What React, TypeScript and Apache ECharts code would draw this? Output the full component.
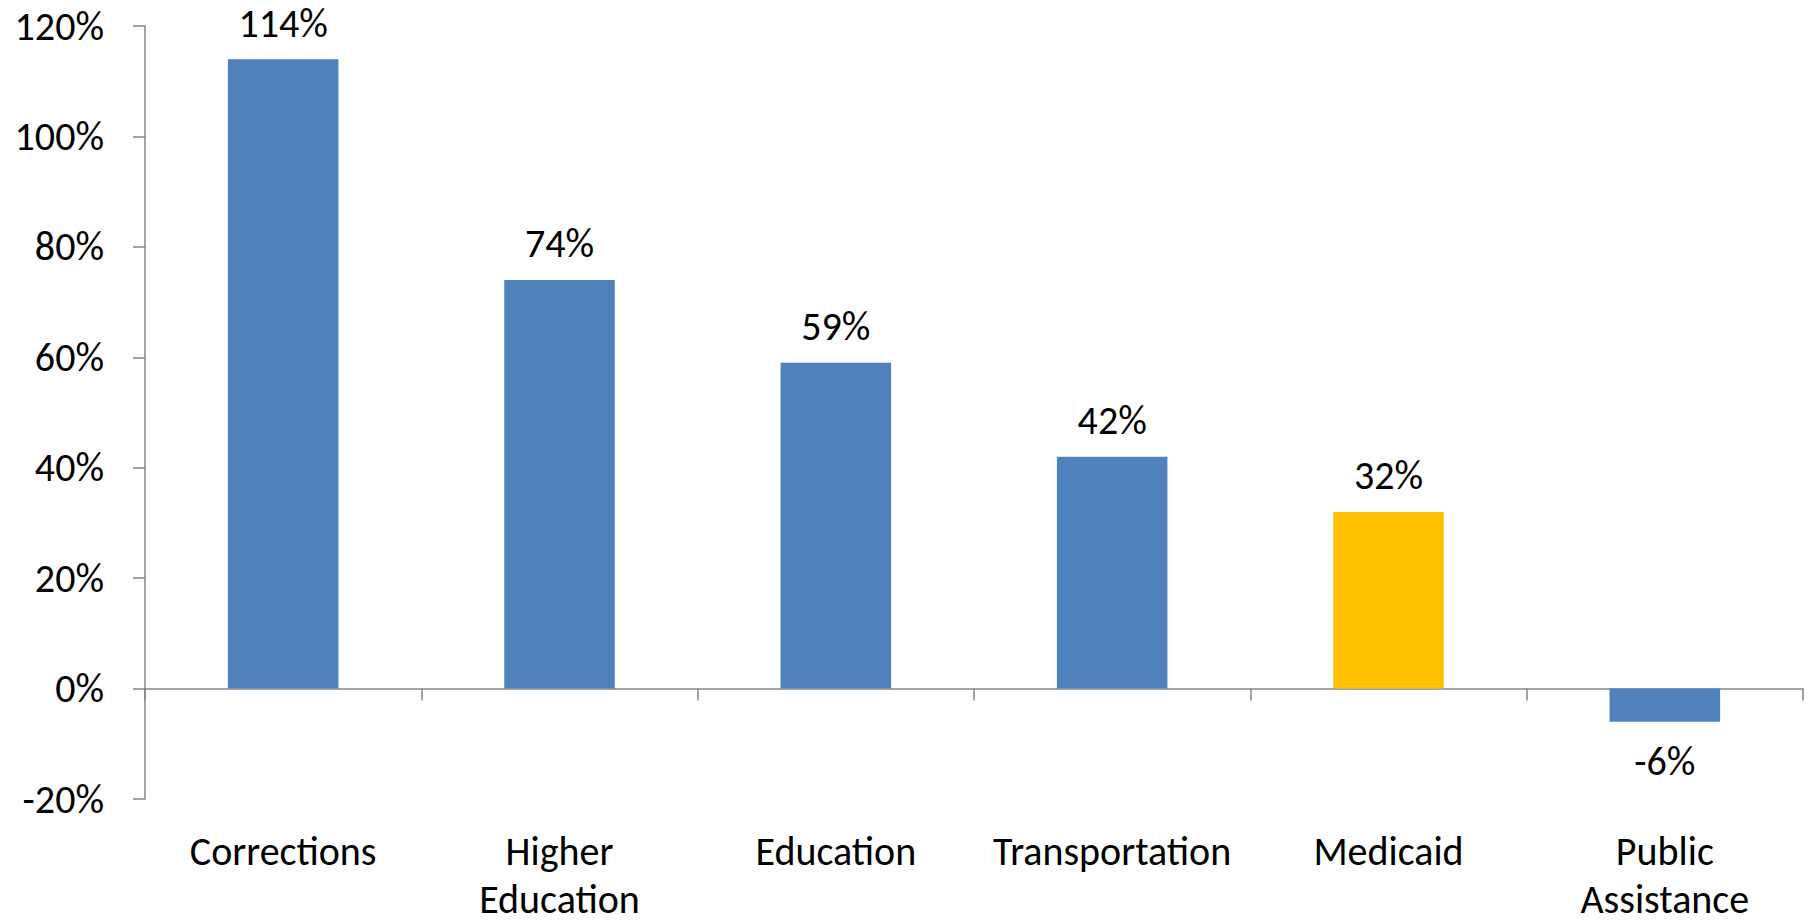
import React, { useEffect, useRef } from "react";
import * as echarts from "echarts";

const categories = ["Corrections", "Higher\nEducation", "Education", "Transportation", "Medicaid", "Public\nAssistance"];
const values = [114, 74, 59, 42, 32, -6];
const highlighted = "Medicaid";
const yTicks = { min: -20, max: 120, interval: 20 };

const BLUE = "#4F81BD";
const GOLD = "#FFC000";
const AXIS = "#868686";
const FONT = "Calibri, Carlito, Lato, 'Open Sans', sans-serif";
const FS = 40;

export default function App() {
  const ref = useRef<HTMLDivElement>(null);
  useEffect(() => {
    if (!ref.current) return;
    const chart = echarts.init(ref.current, null, { renderer: "svg" });
    chart.setOption({
      animation: false,
      backgroundColor: "#ffffff",
      grid: { left: 145, right: 11, top: 26, bottom: 125, containLabel: false, outerBoundsMode: "none" },
      xAxis: [
        {
          type: "category",
          data: categories,
          axisLine: { onZero: true, lineStyle: { color: AXIS, width: 1.5 } },
          axisTick: { show: true, length: 12, lineStyle: { color: AXIS, width: 1.5 } },
          axisLabel: { show: false },
          splitLine: { show: false },
        },
        {
          type: "category",
          data: categories,
          position: "bottom",
          axisLine: { show: false, onZero: false },
          axisTick: { show: false },
          axisLabel: { margin: 28, fontSize: FS, color: "#000", fontFamily: FONT, lineHeight: 48, interval: 0 },
          splitLine: { show: false },
        },
      ],
      yAxis: {
        type: "value",
        min: yTicks.min,
        max: yTicks.max,
        interval: yTicks.interval,
        axisLine: { show: true, lineStyle: { color: AXIS, width: 1.5 } },
        axisTick: { show: true, length: 12, lineStyle: { color: AXIS, width: 1.5 } },
        axisLabel: { formatter: "{value}%", fontSize: FS, color: "#000", fontFamily: FONT, margin: 41 },
        splitLine: { show: false },
      },
      series: [
        {
          type: "bar",
          xAxisIndex: 0,
          barCategoryGap: "60%",
          data: values.map((v, i) => ({
            value: v,
            itemStyle: { color: categories[i] === highlighted ? GOLD : BLUE },
            label: {
              show: true,
              position: v >= 0 ? "top" : "bottom",
              distance: v >= 0 ? 16 : 20,
              formatter: "{c}%",
              fontSize: FS,
              color: "#000",
              fontFamily: FONT,
            },
          })),
        },
      ],
    });
    return () => chart.dispose();
  }, []);
  return <div ref={ref} style={{ position: "absolute", left: 0, top: 0, width: 1814, height: 924 }} />;
}
